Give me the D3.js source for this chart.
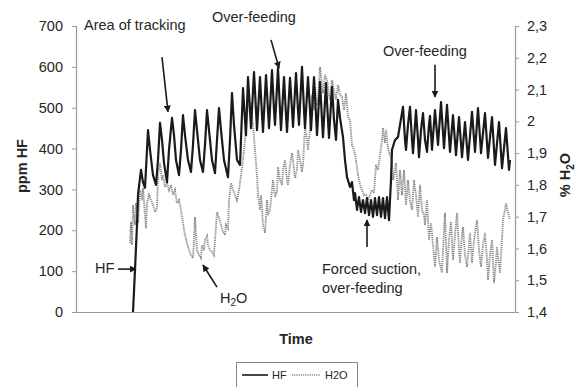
<!DOCTYPE html>
<html>
<head>
<meta charset="utf-8">
<script src="https://cdn.jsdelivr.net/npm/d3@7"></script>
<style>
  html, body { margin: 0; padding: 0; background: #fff; }
  svg { display: block; font-family: "Liberation Sans", Arial, sans-serif; }
</style>
</head>
<body>
<svg id="chart" width="575" height="387"></svg>
<script>
// ---- Data (time in arbitrary units) ----
const hfTime = [57,59,61,62,64,65,67,69,71,72,74,77,80,82,84,86,88,91,93,96,98,100,103,105,107,109,112,115,117,119,121,124,127,129,131,133,136,139,141,143,145,148,152,154,156,158,161,164,167,169,170,172,174,175,178,180,181,184,186,187,190,192,193,196,198,199,202,204,205,208,210,211,214,216,217,220,222,223,226,228,229,232,234,235,238,240,241,244,246,247,250,252,253,256,258,260,262,264,267,269,271,274,276,278,279,281,283,285,287,289,291,293,295,297,299,301,303,305,307,309,311,313,315,316,319,322,324,327,329,330,332,334,336,337,339,340,342,343,345,347,349,351,353,354,356,359,362,365,368,371,374,377,380,383,386,389,392,396,399,402,405,409,412,416,419,423,426,430,433,434];
const hfValues = [0,103,213,286,328,348,318,304,397,445,397,335,311,372,463,421,365,318,397,475,433,372,335,397,482,433,372,343,409,494,445,372,343,409,494,445,372,340,421,499,445,372,330,421,536,458,372,360,548,470,433,575,494,450,587,494,445,575,482,441,580,494,450,592,494,458,597,494,445,575,482,441,573,494,453,585,494,458,600,494,450,575,494,445,575,482,433,563,470,428,560,470,426,551,470,421,519,475,428,372,330,306,318,274,291,250,281,245,274,242,279,237,274,233,279,237,281,233,279,230,281,225,323,397,421,428,458,502,421,397,458,502,421,389,458,494,421,379,445,487,421,392,458,480,397,494,409,514,401,507,392,482,384,477,379,465,372,490,392,499,389,487,377,477,360,465,352,450,348,372];

const h2oTime = [54,55,56,57,59,60,62,64,66,67,69,70,71,73,75,77,79,81,82,84,86,87,89,91,93,95,97,99,101,103,105,107,109,111,113,115,117,118,119,120,121,123,125,126,128,129,131,132,134,136,138,139,141,143,145,147,149,150,152,153,155,157,159,161,163,165,167,169,171,173,175,177,179,181,182,184,185,187,189,191,192,194,196,197,199,201,202,204,206,207,209,211,212,214,216,217,219,221,222,224,226,227,229,231,232,234,236,238,239,241,242,244,246,247,249,251,253,254,256,258,260,262,264,266,268,270,272,274,276,278,280,282,284,286,288,290,292,294,296,298,300,302,304,306,307,309,310,312,314,316,317,319,320,322,324,326,328,330,332,334,336,338,340,342,344,346,348,349,351,353,355,357,359,361,363,366,368,369,371,373,375,377,379,381,383,384,386,387,389,391,393,394,396,398,401,403,405,407,409,411,412,414,416,418,420,421,423,424,426,427,429,430,432,434];
const h2oValues = [1.617,1.683,1.611,1.737,1.674,1.743,1.680,1.784,1.752,1.790,1.705,1.664,1.743,1.768,1.752,1.737,1.715,1.727,1.831,1.869,1.815,1.831,1.793,1.806,1.784,1.800,1.768,1.784,1.743,1.752,1.721,1.680,1.642,1.617,1.595,1.579,1.570,1.627,1.699,1.642,1.595,1.579,1.570,1.611,1.595,1.627,1.639,1.611,1.595,1.589,1.579,1.627,1.715,1.696,1.674,1.652,1.642,1.674,1.664,1.752,1.806,1.784,1.768,1.752,1.784,1.831,1.878,1.941,2.020,2.067,2.051,1.988,1.910,1.831,1.768,1.721,1.768,1.674,1.649,1.752,1.705,1.721,1.784,1.815,1.762,1.778,1.856,1.815,1.800,1.847,1.878,1.815,1.800,1.863,1.900,1.878,1.822,1.847,1.910,1.878,1.841,1.863,1.982,1.941,1.910,1.973,2.083,2.036,2.108,2.051,2.067,2.171,2.114,2.089,2.146,2.130,2.083,2.067,2.130,2.099,2.067,2.114,2.083,2.077,2.036,2.089,2.014,2.004,1.926,1.910,1.878,1.831,1.800,1.784,1.768,1.768,1.752,1.768,1.784,1.774,1.863,1.847,1.894,1.941,1.979,1.932,1.973,1.916,1.894,1.878,1.815,1.847,1.869,1.752,1.847,1.768,1.847,1.737,1.815,1.752,1.721,1.815,1.768,1.699,1.800,1.721,1.705,1.674,1.752,1.627,1.680,1.611,1.542,1.636,1.564,1.523,1.658,1.712,1.523,1.627,1.683,1.564,1.642,1.712,1.595,1.554,1.642,1.667,1.579,1.542,1.611,1.649,1.554,1.627,1.690,1.595,1.542,1.611,1.649,1.564,1.501,1.579,1.627,1.491,1.557,1.605,1.548,1.523,1.627,1.690,1.721,1.743,1.712,1.690];

const leftTicks = [0,100,200,300,400,500,600,700];
const rightTicks = [1.4,1.5,1.6,1.7,1.8,1.9,2.0,2.1,2.2,2.3];
const seriesNames = ["HF", "H2O"];

// ---- Layout ----
const svg = d3.select("#chart");
const L = 76, R = 515, T = 26, B = 312;

const x = d3.scaleLinear().domain([0, 439]).range([L, R]);
const yL = d3.scaleLinear().domain([0, 700]).range([B, T]);
const yR = d3.scaleLinear().domain([1.4, 2.3]).range([B, T]);

const axisColor = "#9a9a9a";
const textColor = "#262626";
const fs = "14.5px";

// Left axis
const gl = svg.append("g").attr("transform", `translate(${L},0)`)
  .call(d3.axisLeft(yL).tickValues(leftTicks).tickSize(4).tickPadding(9).tickFormat(d3.format("d")));
gl.select(".domain").attr("stroke", axisColor).attr("stroke-width", 1.2);
gl.selectAll(".tick line").attr("stroke", axisColor);
gl.selectAll(".tick text").attr("fill", textColor).style("font-size", fs).style("font-family", "Liberation Sans, Arial, sans-serif");

// Right axis
const fmtR = d => (Math.round(d * 10) / 10).toString().replace(".", ",");
const gr = svg.append("g").attr("transform", `translate(${R},0)`)
  .call(d3.axisRight(yR).tickValues(rightTicks).tickSize(4).tickPadding(8).tickFormat(fmtR));
gr.select(".domain").attr("stroke", axisColor).attr("stroke-width", 1.2);
gr.selectAll(".tick line").attr("stroke", axisColor);
gr.selectAll(".tick text").attr("fill", textColor).style("font-size", fs).style("font-family", "Liberation Sans, Arial, sans-serif");

// Bottom axis (no ticks)
const gb = svg.append("g").attr("transform", `translate(0,${B})`)
  .call(d3.axisBottom(x).tickValues([]).tickSizeOuter(0));
gb.select(".domain").attr("stroke", axisColor).attr("stroke-width", 1.2);

// Lines
const hfData = hfTime.map((t, i) => [t, hfValues[i]]);
const h2oData = h2oTime.map((t, i) => [t, h2oValues[i]]);

svg.append("path").datum(h2oData)
  .attr("fill", "none").attr("stroke", "#8a8a8a").attr("stroke-width", 1.9)
  .attr("stroke-dasharray", "1.2,0.9")
  .attr("d", d3.line().x(d => x(d[0])).y(d => yR(d[1])));

svg.append("path").datum(hfData)
  .attr("fill", "none").attr("stroke", "#1a1a1a").attr("stroke-width", 2.2)
  .attr("stroke-linejoin", "round")
  .attr("d", d3.line().x(d => x(d[0])).y(d => yL(d[1])));

// Axis titles
svg.append("text").attr("transform", `translate(27,166) rotate(-90)`)
  .attr("text-anchor", "middle").attr("font-weight", "bold").attr("fill", textColor)
  .style("font-size", "14.5px").text("ppm HF");

const rt = svg.append("text").attr("transform", `translate(570,175) rotate(-90)`)
  .attr("text-anchor", "middle").attr("font-weight", "bold").attr("fill", textColor)
  .style("font-size", "14.5px");
rt.append("tspan").text("% H");
rt.append("tspan").attr("dy", 4).style("font-size", "10px").text("2");
rt.append("tspan").attr("dy", -4).text("O");

svg.append("text").attr("x", 296).attr("y", 344).attr("text-anchor", "middle")
  .attr("font-weight", "bold").attr("fill", textColor).style("font-size", "14.5px").text("Time");

// Arrowhead marker
svg.append("defs").append("marker").attr("id", "ah")
  .attr("viewBox", "0 0 10 10").attr("refX", 9).attr("refY", 5)
  .attr("markerWidth", 7).attr("markerHeight", 7).attr("markerUnits", "userSpaceOnUse")
  .attr("orient", "auto")
  .append("path").attr("d", "M0,0 L10,5 L0,10 z").attr("fill", "#1a1a1a");

// Annotations in data units (time, ppm)
const notes = [
  { text: ["Area of tracking"], t: 8, v: 690, arrow: [86, 624, 92, 490] },
  { text: ["Over-feeding"], t: 136, v: 710, arrow: [195, 666, 203, 597] },
  { text: ["Over-feeding"], t: 307, v: 627, arrow: [359, 605, 359, 526] },
  { text: ["Forced suction,", "over-feeding"], t: 246, v: 93, arrow: [291, 159, 291, 225] },
  { text: ["HF"], t: 19, v: 95, arrow: [42, 105, 60, 105] }
];
notes.forEach(n => {
  const tx = svg.append("text").attr("x", x(n.t)).attr("y", yL(n.v))
    .attr("fill", textColor).style("font-size", fs);
  n.text.forEach((s, i) => tx.append("tspan").attr("x", x(n.t)).attr("dy", i ? 19 : 0).text(s));
  const a = n.arrow;
  svg.append("line").attr("x1", x(a[0])).attr("y1", yL(a[1])).attr("x2", x(a[2])).attr("y2", yL(a[3]))
    .attr("stroke", "#1a1a1a").attr("stroke-width", 1.6).attr("marker-end", "url(#ah)");
});
// H2O label with subscript
const h2 = svg.append("text").attr("x", x(144)).attr("y", yL(22)).attr("fill", textColor).style("font-size", fs);
h2.append("tspan").text("H");
h2.append("tspan").attr("dy", 3).style("font-size", "10px").text("2");
h2.append("tspan").attr("dy", -3).text("O");
svg.append("line").attr("x1", x(141)).attr("y1", yL(61)).attr("x2", x(127)).attr("y2", yL(115))
  .attr("stroke", "#1a1a1a").attr("stroke-width", 1.6).attr("marker-end", "url(#ah)");

// Legend
const lg = svg.append("g");
lg.append("rect").attr("x", 236.5).attr("y", 362.5).attr("width", 121).attr("height", 30)
  .attr("fill", "#fff").attr("stroke", "#8a8a8a");
lg.append("line").attr("x1", 242).attr("x2", 268).attr("y1", 375).attr("y2", 375)
  .attr("stroke", "#1a1a1a").attr("stroke-width", 1.6);
lg.append("text").attr("x", 272).attr("y", 379).attr("fill", textColor).style("font-size", "11px").text(seriesNames[0]);
lg.append("line").attr("x1", 292).attr("x2", 320).attr("y1", 375).attr("y2", 375)
  .attr("stroke", "#8a8a8a").attr("stroke-width", 1.4).attr("stroke-dasharray", "1.2,1");
lg.append("text").attr("x", 325).attr("y", 379).attr("fill", textColor).style("font-size", "11px").text(seriesNames[1]);
</script>
</body>
</html>
